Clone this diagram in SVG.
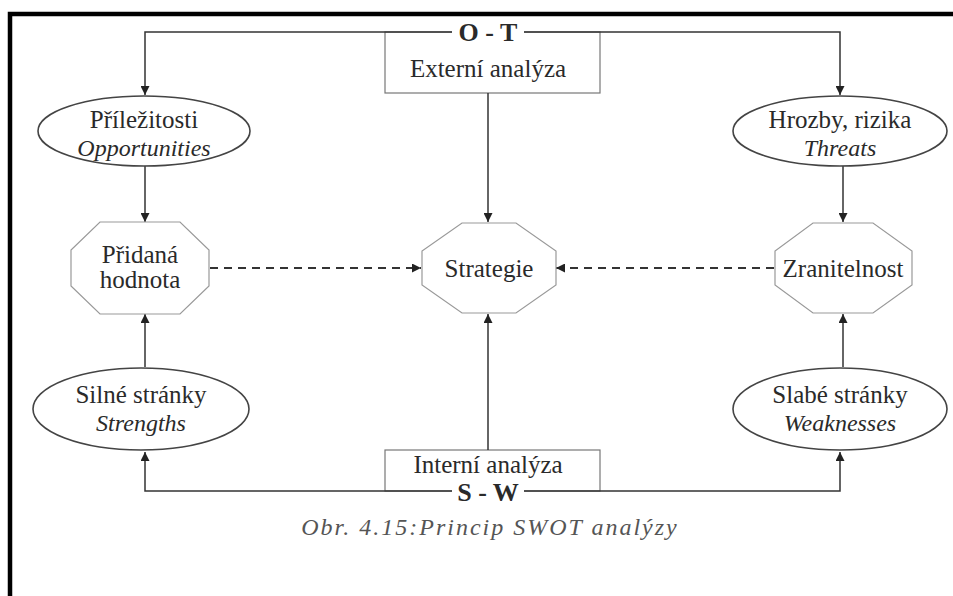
<svg xmlns="http://www.w3.org/2000/svg" width="953" height="596" viewBox="0 0 953 596">
  <style>
    .txt { font-family: "Liberation Serif", "Times New Roman", serif; font-size: 25px; fill: #2a2a2a; text-anchor: middle; }
    .it { font-style: italic; font-size: 24px; }
    .bold { font-weight: bold; font-size: 26px; }
    .cap { font-family: "Liberation Serif", "Times New Roman", serif; font-size: 24px; letter-spacing: 2px; font-style: italic; fill: #555; text-anchor: middle; }
    .line { fill: none; stroke: #333; stroke-width: 1.5; }
    .dash { fill: none; stroke: #333; stroke-width: 1.8; stroke-dasharray: 8 6; }
    .box { fill: #fff; stroke: #777; stroke-width: 1.2; }
    .oval { fill: #fff; stroke: #444; stroke-width: 1.6; }
    .oct { fill: #fff; stroke: #999; stroke-width: 1.2; }
  </style>
  <defs>
    <marker id="arr" viewBox="0 0 10 10" refX="10" refY="5" markerWidth="9" markerHeight="9" markerUnits="userSpaceOnUse" orient="auto">
      <path d="M0,0 L10,5 L0,10 Z" fill="#222"/>
    </marker>
  </defs>

  <rect width="953" height="596" fill="#fff"/>

  <!-- frame -->
  <path d="M10,596 V14 H953" fill="none" stroke="#000" stroke-width="4.5"/>

  <!-- boxes for external / internal analysis -->
  <g id="externi">
    <rect class="box" x="385" y="32" width="215" height="61"/>
    <rect x="452" y="18" width="72" height="28" fill="#fff"/>
    <text class="txt bold" x="488" y="41">O - T</text>
    <text class="txt" x="488" y="77">Externí analýza</text>
  </g>
  <g id="interni">
    <rect class="box" x="385" y="450" width="215" height="41"/>
    <rect x="452" y="481" width="72" height="24" fill="#fff"/>
    <text class="txt" x="488" y="473">Interní analýza</text>
    <text class="txt bold" x="488" y="501">S - W</text>
  </g>

  <!-- connectors -->
  <g id="connectors">
    <path class="line" d="M452,32 H145 V95" marker-end="url(#arr)"/>
    <path class="line" d="M524,32 H840 V95" marker-end="url(#arr)"/>
    <path class="line" d="M488,93 V222" marker-end="url(#arr)"/>
    <path class="line" d="M145,166 V222" marker-end="url(#arr)"/>
    <path class="line" d="M843,166 V222" marker-end="url(#arr)"/>
    <path class="dash" d="M210,268 H421" marker-end="url(#arr)"/>
    <path class="dash" d="M774,268 H556" marker-end="url(#arr)"/>
    <path class="line" d="M145,367 V314" marker-end="url(#arr)"/>
    <path class="line" d="M843,367 V314" marker-end="url(#arr)"/>
    <path class="line" d="M488,450 V314" marker-end="url(#arr)"/>
    <path class="line" d="M452,491 H145 V452" marker-end="url(#arr)"/>
    <path class="line" d="M524,491 H840 V452" marker-end="url(#arr)"/>
  </g>

  <!-- opportunities -->
  <g id="prilezitosti">
    <ellipse class="oval" cx="144" cy="131" rx="106" ry="35"/>
    <text class="txt" x="144" y="128">Příležitosti</text>
    <text class="txt it" x="144" y="156">Opportunities</text>
  </g>

  <!-- threats -->
  <g id="hrozby">
    <ellipse class="oval" cx="840" cy="131" rx="107" ry="35"/>
    <text class="txt" x="840" y="128">Hrozby, rizika</text>
    <text class="txt it" x="840" y="156">Threats</text>
  </g>

  <!-- added value -->
  <g id="pridana">
    <polygon class="oct" points="100,222 180,222 209,250 209,286 180,314 100,314 71,286 71,250"/>
    <text class="txt" x="140" y="263">Přidaná</text>
    <text class="txt" x="140" y="288">hodnota</text>
  </g>

  <!-- strategy -->
  <g id="strategie">
    <polygon class="oct" points="462,223 516,223 556,251 556,285 516,313 462,313 422,285 422,251"/>
    <text class="txt" x="489" y="277">Strategie</text>
  </g>

  <!-- vulnerability -->
  <g id="zranitelnost">
    <polygon class="oct" points="813,223 873,223 912,251 912,285 873,313 813,313 775,285 775,251"/>
    <text class="txt" x="843" y="277">Zranitelnost</text>
  </g>

  <!-- strengths -->
  <g id="silne">
    <ellipse class="oval" cx="141" cy="409" rx="108" ry="41"/>
    <text class="txt" x="141" y="403">Silné stránky</text>
    <text class="txt it" x="141" y="431">Strengths</text>
  </g>

  <!-- weaknesses -->
  <g id="slabe">
    <ellipse class="oval" cx="840" cy="409" rx="107" ry="41"/>
    <text class="txt" x="840" y="403">Slabé stránky</text>
    <text class="txt it" x="840" y="431">Weaknesses</text>
  </g>

  <text class="cap" x="490" y="535">Obr. 4.15:Princip SWOT analýzy</text>
</svg>
